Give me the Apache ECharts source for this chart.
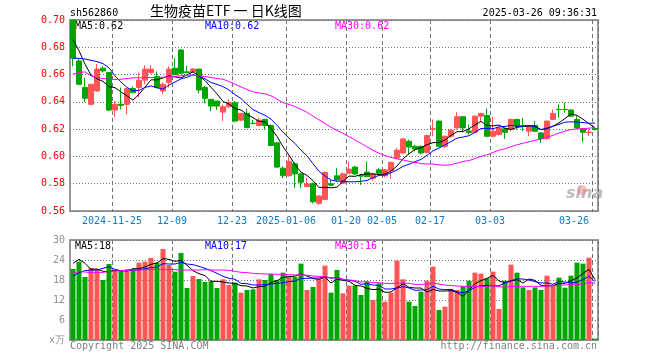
<!DOCTYPE html>
<html><head><meta charset="utf-8">
<script src="https://cdn.jsdelivr.net/npm/echarts/dist/echarts.min.js"></script>
<style>html,body{margin:0;padding:0;background:#fff}#c{width:660px;height:360px}</style>
</head><body><div id="c"></div>
<script>
const dates = ['2024-11-14','2024-11-15','2024-11-18','2024-11-19','2024-11-20','2024-11-21','2024-11-22','2024-11-25','2024-11-26','2024-11-27','2024-11-28','2024-11-29','2024-12-02','2024-12-03','2024-12-04','2024-12-05','2024-12-06','2024-12-09','2024-12-10','2024-12-11','2024-12-12','2024-12-13','2024-12-16','2024-12-17','2024-12-18','2024-12-19','2024-12-20','2024-12-23','2024-12-24','2024-12-25','2024-12-26','2024-12-27','2024-12-30','2024-12-31','2025-01-02','2025-01-03','2025-01-06','2025-01-07','2025-01-08','2025-01-09','2025-01-10','2025-01-13','2025-01-14','2025-01-15','2025-01-16','2025-01-17','2025-01-20','2025-01-21','2025-01-22','2025-01-23','2025-01-24','2025-01-27','2025-02-05','2025-02-06','2025-02-07','2025-02-10','2025-02-11','2025-02-12','2025-02-13','2025-02-14','2025-02-17','2025-02-18','2025-02-19','2025-02-20','2025-02-21','2025-02-24','2025-02-25','2025-02-26','2025-02-27','2025-02-28','2025-03-03','2025-03-04','2025-03-05','2025-03-06','2025-03-07','2025-03-10','2025-03-11','2025-03-12','2025-03-13','2025-03-14','2025-03-17','2025-03-18','2025-03-19','2025-03-20','2025-03-21','2025-03-24','2025-03-25','2025-03-26'];

const tickDates = ['2024-11-25','2024-12-09','2024-12-23','2025-01-06','2025-01-20','2025-02-05','2025-02-17','2025-03-03','2025-03-26'];
const tickLabels = ['2024-11-25','12-09','12-23','2025-01-06','01-20','02-05','02-17','03-03','03-26'];

const opens = [0.700,0.670,0.6505,0.6382,0.648,0.6647,0.6615,0.634,0.6382,0.6382,
0.6497,0.6505,0.6559,0.6615,0.6586,0.648,0.6542,0.6647,0.678,0.662,
0.662,0.664,0.6505,0.6418,0.6406,0.6325,0.6364,0.6394,0.6266,0.6315,
0.6243,0.6227,0.6271,0.6227,0.61,0.5914,0.5858,0.5946,0.5872,0.5779,
0.5799,0.5656,0.5685,0.5799,0.5858,0.5804,0.5877,0.5922,0.5859,0.5885,
0.584,0.5902,0.5858,0.5897,0.5988,0.6025,0.6111,0.6074,0.6074,0.603,
0.62,0.6259,0.6074,0.6148,0.6209,0.6291,0.6187,0.6177,0.6295,0.63,
0.6148,0.616,0.6202,0.6197,0.6271,0.6224,0.6185,0.6227,0.6172,0.613,
0.6271,0.6345,0.6345,0.634,0.6271,0.6202,0.6176,0.6205];
const closes = [0.672,0.6529,0.6426,0.6529,0.664,0.6627,0.634,0.6382,0.6374,0.6497,
0.6468,0.6559,0.664,0.664,0.6505,0.6529,0.664,0.6598,0.661,0.6615,
0.664,0.6487,0.6426,0.6369,0.6369,0.6364,0.6394,0.6259,0.6315,0.621,
0.6241,0.6266,0.6227,0.608,0.5922,0.5858,0.5963,0.5872,0.5811,0.5799,
0.5668,0.571,0.5882,0.5789,0.5828,0.5872,0.5907,0.5872,0.5856,0.5853,
0.5872,0.5877,0.5902,0.5956,0.6045,0.6128,0.6069,0.6054,0.6025,0.6153,
0.6202,0.6074,0.6148,0.6192,0.6291,0.6209,0.6175,0.6295,0.6315,0.6148,
0.6185,0.6209,0.6177,0.6271,0.6222,0.6221,0.6222,0.6185,0.613,0.6259,
0.6315,0.6343,0.6343,0.6295,0.6209,0.6177,0.6178,0.6197];
const lows = [0.666,0.6522,0.6399,0.6374,0.6473,0.6615,0.6332,0.6291,0.6345,0.6308,
0.6463,0.6431,0.6529,0.6603,0.65,0.6455,0.6505,0.6598,0.6603,0.6608,
0.6615,0.6463,0.6389,0.6332,0.634,0.6259,0.6357,0.6251,0.6259,0.621,
0.6236,0.6222,0.6197,0.6074,0.5914,0.584,0.5853,0.5767,0.5767,0.5774,
0.5656,0.5644,0.568,0.5784,0.5816,0.5796,0.5872,0.5865,0.5791,0.5848,
0.5823,0.5865,0.5848,0.5833,0.598,0.602,0.6013,0.6037,0.6013,0.602,
0.6148,0.6069,0.6062,0.6136,0.6197,0.6177,0.616,0.6172,0.6259,0.6143,
0.6143,0.6153,0.6128,0.6185,0.6197,0.6185,0.6148,0.6177,0.6099,0.6123,
0.6266,0.6283,0.632,0.629,0.6202,0.6104,0.6148,0.619];
const highs = [0.700,0.6714,0.6578,0.6529,0.6677,0.6664,0.6615,0.6406,0.6505,0.6497,
0.6512,0.6615,0.6669,0.6669,0.6623,0.6542,0.666,0.6719,0.6788,0.6664,
0.6647,0.664,0.6517,0.6423,0.6406,0.6382,0.6418,0.6406,0.632,0.635,
0.6268,0.6283,0.6275,0.6234,0.6103,0.5926,0.6005,0.5956,0.5882,0.584,
0.5809,0.5717,0.5889,0.583,0.5914,0.5882,0.5963,0.5931,0.5872,0.5963,
0.5882,0.5914,0.5907,0.5963,0.6062,0.6136,0.6123,0.6086,0.6079,0.616,
0.6271,0.6263,0.6152,0.6202,0.6325,0.6295,0.6234,0.63,0.632,0.635,
0.6291,0.6217,0.6209,0.6276,0.6276,0.6283,0.6227,0.626,0.6177,0.6263,
0.6345,0.6382,0.6394,0.6345,0.6295,0.6209,0.6197,0.6212];

const ma5 = [0.6856,0.6775,0.6677,0.6596,0.6569,0.6550,0.6512,0.6504,0.6473,0.6444,
0.6412,0.6456,0.6508,0.6561,0.6562,0.6575,0.6591,0.6582,0.6576,0.6598,
0.6621,0.6590,0.6556,0.6507,0.6458,0.6403,0.6384,0.6351,0.6340,0.6308,
0.6284,0.6258,0.6252,0.6205,0.6147,0.6071,0.6010,0.5939,0.5885,0.5861,
0.5823,0.5772,0.5774,0.5770,0.5775,0.5816,0.5856,0.5854,0.5867,0.5872,
0.5872,0.5866,0.5872,0.5892,0.5930,0.5982,0.6020,0.6050,0.6064,0.6086,
0.6101,0.6102,0.6120,0.6154,0.6181,0.6183,0.6203,0.6232,0.6257,0.6228,
0.6224,0.6230,0.6207,0.6198,0.6213,0.6220,0.6223,0.6224,0.6196,0.6203,
0.6222,0.6246,0.6278,0.6311,0.6301,0.6273,0.6240,0.6211];
const ma10 = [0.6719,0.6719,0.6714,0.6705,0.6695,0.668,0.665,0.659,0.6545,0.6506,
0.6481,0.6484,0.6506,0.6517,0.6503,0.6493,0.6523,0.6545,0.6569,0.6580,
0.6598,0.6590,0.6569,0.6542,0.6528,0.6512,0.6487,0.6453,0.6424,0.6383,
0.6343,0.6321,0.6301,0.6273,0.6228,0.6177,0.6134,0.6095,0.6045,0.6004,
0.5947,0.5891,0.5857,0.5827,0.5818,0.5819,0.5814,0.5814,0.5818,0.5824,
0.5844,0.5861,0.5863,0.5880,0.5901,0.5927,0.5943,0.5961,0.5978,0.6008,
0.6041,0.6061,0.6085,0.6109,0.6134,0.6142,0.6152,0.6176,0.6205,0.6205,
0.6203,0.6217,0.6220,0.6228,0.6221,0.6222,0.6227,0.6216,0.6197,0.6208,
0.6221,0.6235,0.6251,0.6254,0.6252,0.6248,0.6243,0.6245];
const ma30 = [0.6603,0.6615,0.662,0.6591,0.6578,0.6571,0.6566,0.6564,0.6566,0.6571,
0.6576,0.6576,0.6578,0.6578,0.6578,0.6581,0.6583,0.6586,0.6591,0.6596,
0.6596,0.6591,0.6586,0.6578,0.6571,0.6566,0.6549,0.6529,0.6510,0.6490,
0.6474,0.6465,0.6459,0.6444,0.6420,0.6394,0.6382,0.6365,0.6346,0.6323,
0.6296,0.6268,0.6242,0.6214,0.6191,0.6169,0.6145,0.6121,0.6096,0.6070,
0.6045,0.6024,0.6007,0.5993,0.5982,0.5974,0.5964,0.5957,0.5947,0.5945,
0.5944,0.5938,0.5935,0.5939,0.5951,0.5963,0.5970,0.5984,0.6001,0.6012,
0.6029,0.6046,0.6056,0.6072,0.6085,0.6097,0.6107,0.6118,0.6127,0.6140,
0.6155,0.6171,0.6185,0.6197,0.6202,0.6204,0.6207,0.6212];

const volumes = [21.3,23.5,18.9,21.6,21.2,18.0,22.8,21.0,20.8,21.0,
21.2,23.2,23.5,24.6,23.2,27.3,22.5,20.5,26.1,15.6,
19.2,18.3,17.4,17.6,15.6,18.2,16.5,17.2,14.2,15.0,
15.2,18.2,18.0,19.8,18.0,20.2,19.0,19.0,22.9,15.0,
15.9,18.2,22.3,14.2,21.0,14.0,16.3,16.3,13.5,17.5,
12.0,17.0,11.5,14.2,23.8,18.2,11.5,10.2,14.5,17.8,
22.0,9.0,10.0,15.3,15.0,16.2,17.8,20.2,19.9,18.5,
20.5,9.3,17.8,22.6,20.2,15.8,15.0,15.8,15.0,19.3,
16.2,18.7,15.7,19.3,23.2,22.9,24.7,0.4];
const volMa5 = [23.0,24.2,23.0,21.2,21.3,20.6,20.5,20.9,20.8,20.7,
21.4,21.4,21.9,22.7,23.1,24.4,24.2,23.6,23.9,22.4,
20.8,19.9,19.3,17.6,17.6,17.4,17.1,17.0,16.3,16.2,
15.6,16.0,16.1,17.2,17.8,18.8,19.0,19.2,19.8,19.2,
18.4,18.2,18.9,17.1,18.3,17.9,17.6,16.4,16.2,15.5,
15.1,15.3,14.3,14.4,15.7,16.9,15.8,15.6,15.6,14.4,
15.2,14.7,14.7,14.8,14.3,13.1,14.9,16.9,17.8,18.5,
19.4,17.7,17.2,17.7,18.1,17.1,18.3,17.9,16.4,16.2,
16.3,17.0,17.0,17.8,18.6,20.0,21.2,18.1];
const volMa10 = [19.2,20.2,20.8,21.0,21.0,21.5,22.0,21.2,20.8,21.0,
21.0,21.0,21.4,21.7,21.9,22.9,22.8,22.8,23.3,22.8,
22.6,22.1,21.5,20.8,20.0,19.1,18.5,18.2,17.0,16.9,
16.5,16.5,16.6,16.8,17.0,17.2,17.5,17.7,18.5,18.5,
18.6,18.6,19.0,18.5,18.8,18.2,17.9,17.6,16.7,16.9,
16.5,16.4,15.3,15.3,15.6,16.0,15.6,14.9,15.0,15.1,
16.1,15.3,15.1,15.2,14.4,14.2,14.8,15.8,16.3,16.4,
16.2,16.3,17.1,17.8,18.3,18.3,18.0,17.5,17.1,17.1,
16.7,17.6,17.4,17.1,17.4,18.1,19.1,17.5];
const volMa30 = [20.0,20.5,20.4,20.2,20.2,20.3,20.5,20.7,20.8,20.9,
21.0,21.0,21.1,21.2,21.2,21.2,21.2,21.1,21.0,21.0,
21.0,21.0,21.1,21.0,21.0,21.0,20.9,20.6,20.3,20.2,
20.0,19.9,19.8,19.8,19.7,19.7,19.6,19.5,19.6,19.4,
19.2,19.1,19.0,18.7,18.6,18.2,18.0,17.8,17.4,17.5,
17.2,17.2,17.0,16.9,17.1,17.1,17.0,16.7,16.7,16.8,
17.1,16.8,16.5,16.3,16.2,16.1,16.1,16.1,16.0,16.1,
16.3,16.0,15.8,16.1,16.1,16.1,16.1,16.1,16.1,16.2,
16.3,16.4,16.5,16.7,16.7,16.8,17.3,17.0];

const UP = '#ff5555', DOWN = '#00a600';
const MONO = '"DejaVu Sans Mono", "Liberation Mono", monospace';
const VGRID = '#707070';
const HGRID = '#707070';

const kdata = opens.map((o, i) => [o, closes[i], lows[i], highs[i]]);
const tickIdx = tickDates.map(d => dates.indexOf(d));
const isTick = (idx) => tickIdx.indexOf(idx) >= 0;

const chart = echarts.init(document.getElementById('c'));

function xAx(gi, showLabel) {
  return {
    type: 'category', gridIndex: gi, data: dates,
    axisLine: {show: false}, axisTick: {show: false},
    axisLabel: {
      show: showLabel, interval: isTick, margin: 5, color: '#0f78c8',
      fontFamily: MONO, fontSize: 10, padding: [0, 6, 0, 0], alignMaxLabel: 'right',
      formatter: v => { const k = tickDates.indexOf(v); return k >= 0 ? tickLabels[k] : ''; }
    },
    splitLine: {show: true, interval: isTick, lineStyle: {color: VGRID, width: 1, type: [4, 3]}}
  };
}

chart.setOption({
  animation: false,
  grid: [
    {left: 70, right: 62, top: 20, height: 191, show: true, borderColor: '#999999', borderWidth: 2},
    {left: 70, right: 62, top: 240, height: 100, show: true, borderColor: '#999999', borderWidth: 2}
  ],
  xAxis: [xAx(0, true), xAx(1, false)],
  yAxis: [
    {type: 'value', gridIndex: 0, min: 0.56, max: 0.70, interval: 0.02,
     axisLine: {show: false}, axisTick: {show: false},
     axisLabel: {color: '#ff0000', fontFamily: MONO, fontSize: 10, margin: 5, formatter: v => v.toFixed(2)},
     splitLine: {show: true, lineStyle: {color: HGRID, width: 1, type: [1, 2]}}},
    {type: 'value', gridIndex: 1, min: 0, max: 30, interval: 6,
     axisLine: {show: false}, axisTick: {show: false},
     axisLabel: {color: '#909090', fontFamily: MONO, fontSize: 10, margin: 5, formatter: v => v === 0 ? 'x万' : String(v)},
     splitLine: {show: true, lineStyle: {color: HGRID, width: 1, type: [1, 2]}}}
  ],
  series: [
    {type: 'candlestick', xAxisIndex: 0, yAxisIndex: 0, data: kdata, barWidth: 5,
     itemStyle: {color: UP, color0: DOWN, borderColor: UP, borderColor0: DOWN, borderWidth: 1}},
    {type: 'line', xAxisIndex: 0, yAxisIndex: 0, data: ma5, symbol: 'none', lineStyle: {color: '#000000', width: 1}},
    {type: 'line', xAxisIndex: 0, yAxisIndex: 0, data: ma10, symbol: 'none', lineStyle: {color: '#0000ff', width: 1}},
    {type: 'line', xAxisIndex: 0, yAxisIndex: 0, data: ma30, symbol: 'none', lineStyle: {color: '#ff00ff', width: 1}},
    {type: 'bar', xAxisIndex: 1, yAxisIndex: 1, data: volumes, barWidth: 5,
     itemStyle: {color: p => closes[p.dataIndex] >= opens[p.dataIndex] ? UP : DOWN}},
    {type: 'line', xAxisIndex: 1, yAxisIndex: 1, data: volMa5, symbol: 'none', lineStyle: {color: '#000000', width: 1}},
    {type: 'line', xAxisIndex: 1, yAxisIndex: 1, data: volMa10, symbol: 'none', lineStyle: {color: '#0000ff', width: 1}},
    {type: 'line', xAxisIndex: 1, yAxisIndex: 1, data: volMa30, symbol: 'none', lineStyle: {color: '#ff00ff', width: 1}}
  ],
  graphic: [
    {type: 'text', left: 70, top: 8, style: {text: 'sh562860', font: '10px ' + MONO, fill: '#000'}},
    {type: 'text', left: 150, top: 4, style: {text: '生物疫苗ETF 一 日K线图', font: '14px "Noto Sans CJK SC"', fill: '#000'}},
    {type: 'text', right: 63, top: 8, style: {text: '2025-03-26 09:36:31', font: '10px ' + MONO, fill: '#000'}},
    {type: 'text', left: 75, top: 21, style: {text: 'MA5:0.62', font: '10px ' + MONO, fill: '#000'}},
    {type: 'text', left: 205, top: 21, style: {text: 'MA10:0.62', font: '10px ' + MONO, fill: '#0000ff'}},
    {type: 'text', left: 335, top: 21, style: {text: 'MA30:0.62', font: '10px ' + MONO, fill: '#ff00ff'}},
    {type: 'text', left: 75, top: 241, style: {text: 'MA5:18', font: '10px ' + MONO, fill: '#000'}},
    {type: 'text', left: 205, top: 241, style: {text: 'MA10:17', font: '10px ' + MONO, fill: '#0000ff'}},
    {type: 'text', left: 335, top: 241, style: {text: 'MA30:16', font: '10px ' + MONO, fill: '#ff00ff'}},
    {type: 'text', left: 70, top: 341, style: {text: 'Copyright 2025 SINA.COM', font: '10px ' + MONO, fill: '#808080'}},
    {type: 'text', right: 63, top: 341, style: {text: 'http://finance.sina.com.cn', font: '10px ' + MONO, fill: '#808080'}},
    {type: 'text', left: 566, top: 186, style: {text: 'sina', font: 'italic bold 16px "DejaVu Sans"', fill: '#bdbdbd'}},
    {type: 'circle', shape: {cx: 582, cy: 190, r: 5}, style: {fill: 'rgba(240,120,120,0.45)'}}
  ]
});
</script>
</body></html>
